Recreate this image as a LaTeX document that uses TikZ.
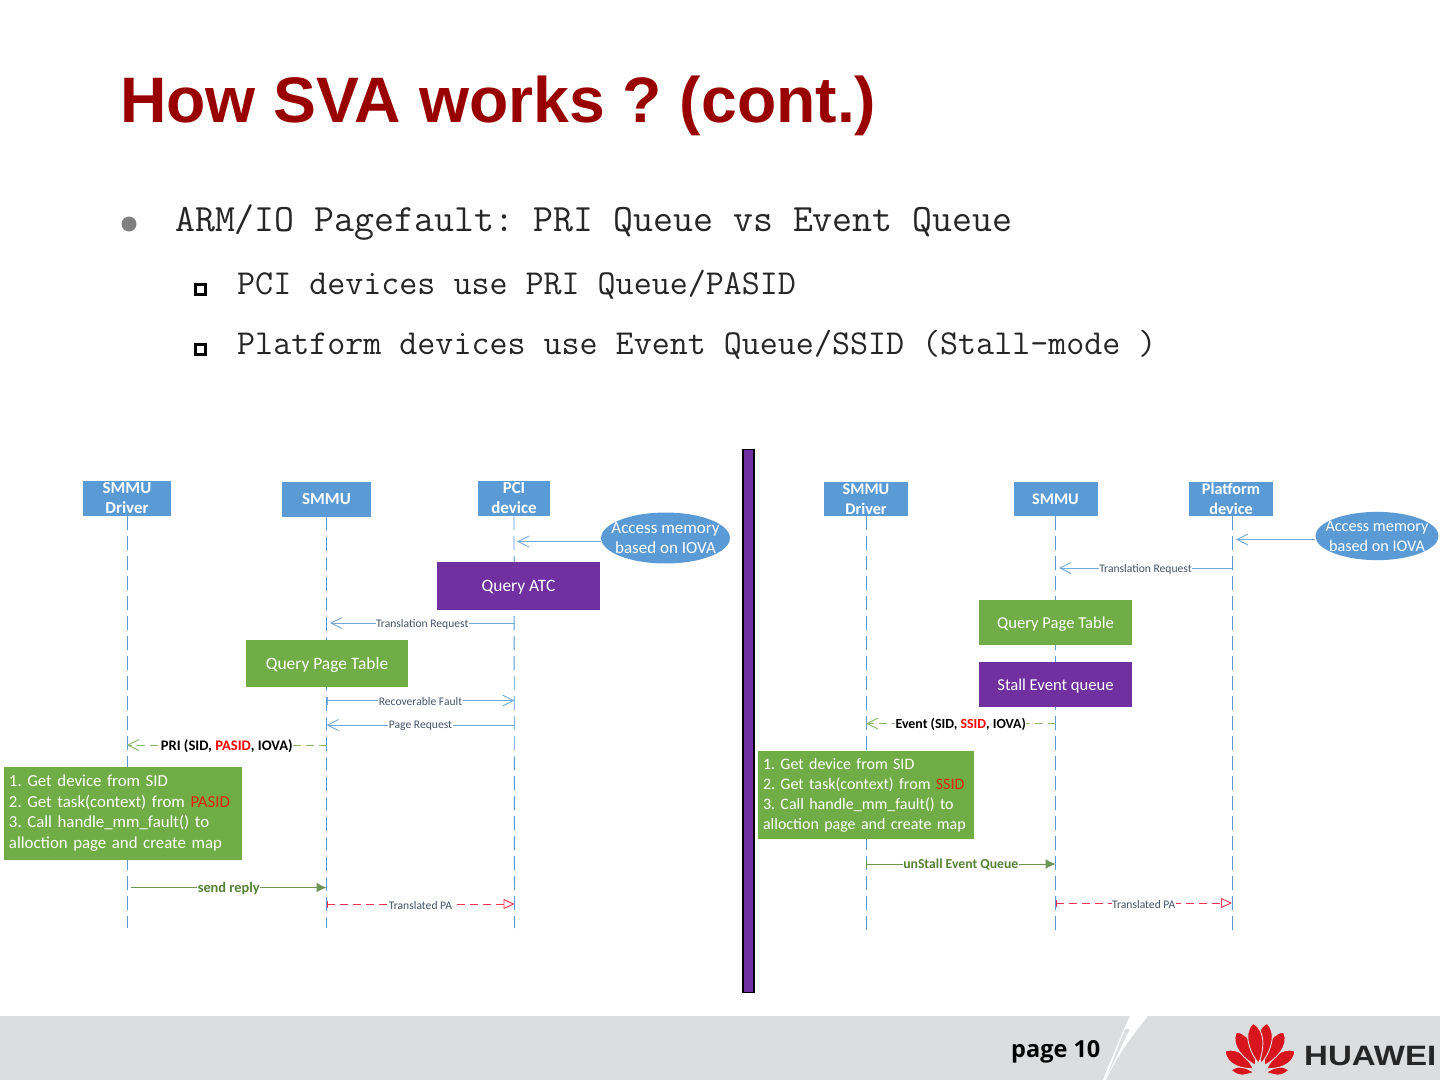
\documentclass[tikz,border=0pt]{standalone}
\usepackage{fontspec}
\setmainfont{Carlito}
\newfontfamily\titlefont{Liberation Sans}
\newfontfamily\bodyfont{Latin Modern Mono}
\newfontfamily\pagefont{Open Sans}
\usetikzlibrary{arrows.meta,shapes.geometric}
\definecolor{hdrblue}{HTML}{5B9BD5}
\definecolor{boxpurple}{HTML}{7030A0}
\definecolor{boxgreen}{HTML}{70AD47}
\definecolor{labelblue}{HTML}{44546A}
\definecolor{darkgreen}{HTML}{548235}
\definecolor{titlered}{HTML}{990000}
\definecolor{footgray}{HTML}{DCDDDE}
\definecolor{logored}{HTML}{D8141C}
\definecolor{redtext}{HTML}{E8200C}
\definecolor{softred}{HTML}{F5334A}
\tikzset{
 x=1pt,y=-1pt,
 hdr/.style={fill=hdrblue,text=white,font=\fontsize{#1}{20}\bfseries\selectfont,align=center,inner sep=0pt,minimum height=35pt,anchor=center},
 lifeline/.style={draw=hdrblue,line width=.9pt,dash pattern=on 14pt off 6pt},
 action/.style={text=white,font=\fontsize{#1}{20}\selectfont,inner sep=0pt,anchor=center,text height=13pt,text depth=2pt},
 notebox/.style={fill=boxgreen,text=white,align=left,inner sep=0pt,text width=#1},
 cloud/.style={ellipse,fill=hdrblue,text=white,align=center},
 msg/.style={fill=white,inner sep=.5pt,text=labelblue,yshift=-1pt,font=\fontsize{11.6}{12}\selectfont},
 msgb/.style={fill=white,inner sep=.5pt,text=black,yshift=-1pt,font=\fontsize{#1}{15}\bfseries\selectfont},
 msgg/.style={fill=white,inner sep=.5pt,text=darkgreen,yshift=-1pt,font=\fontsize{#1}{15}\bfseries\selectfont},
 call/.style={draw=hdrblue!85,line width=1pt,-{Straight Barb[length=11pt,width=11pt,line width=.9pt]}},
 callbar/.style={draw=hdrblue!85,line width=1pt,{Bar[width=8pt,line width=.9pt]}-{Straight Barb[length=11pt,width=11pt,line width=.9pt]}},
 pri/.style={draw=boxgreen!85,line width=1pt,dash pattern=on 8pt off 5pt,-{Straight Barb[length=11pt,width=11pt,line width=.9pt]}},
 reply/.style={draw=darkgreen!85,line width=1pt,-{Latex[length=10pt,width=10pt]}},
 replybar/.style={draw=darkgreen!85,line width=1pt,{Bar[width=8pt,line width=.9pt]}-{Latex[length=10pt,width=10pt]}},
 result/.style={draw=softred,line width=1pt,dash pattern=on 8pt off 5pt,{Bar[width=7pt,line width=.9pt]}-{Triangle[open,length=11pt,width=10pt,line width=.9pt]}},
 bullettext/.style={anchor=base west,inner sep=0pt,font=\bodyfont\fontsize{38.7}{38}\selectfont,text=black!85},
 subtext/.style={anchor=base west,inner sep=0pt,font=\bodyfont\fontsize{35}{35}\selectfont,text=black!85},
 sqbullet/.style={draw=black,line width=2.6pt,minimum size=9.5pt,inner sep=0pt},
 petal/.style={fill=logored,draw=footgray,line width=.9pt},
}
\begin{document}
\frenchspacing
\begin{tikzpicture}
\useasboundingbox (0,0) rectangle (1440,1080);
\fill[white] (0,0) rectangle (1440,1080);

% title and bullets
\node[anchor=base west,inner sep=0pt,text=titlered,font=\titlefont\bfseries\fontsize{64.3}{66}\selectfont] (title) at (120,122) {How SVA works ? (cont.)};
\node[circle,fill=black!50,minimum size=15pt,inner sep=0pt] (b1) at (129,224) {};
\node[bullettext] (t1) at (175,231) {ARM/IO Pagefault: PRI Queue vs Event Queue};
\node[sqbullet] (b2) at (200.5,289.5) {};
\node[subtext] (t2) at (237,294) {PCI devices use PRI Queue/PASID};
\node[sqbullet] (b3) at (200.5,349.5) {};
\node[subtext] (t3) at (237,354) {Platform devices use Event Queue/SSID (Stall-mode )};

% left diagram: headers and lifelines
\node[hdr=16.9,minimum width=88pt] (lD) at (127,498.5) {SMMU\\Driver};
\node[hdr=16.9,minimum width=89pt] (lS) at (326.5,499) {SMMU};
\node[hdr=16.9,minimum width=72pt] (lP) at (514,498.5) {PCI\\device};
\coordinate (lDe) at (127,928);
\coordinate (lSe) at (326.5,928);
\coordinate (lPe) at (514.5,928);
\draw[lifeline] (lD.south) -- (lDe);
\draw[lifeline] (lS.south) -- (lSe);
\draw[lifeline] (lP.south) -- (lPe);

\node[cloud,inner xsep=-8.5pt,inner ysep=2.5pt,font=\fontsize{17}{20}\selectfont] (lA) at (665.5,538) {Access memory\\based on IOVA};
\coordinate (la1) at (517,541.5);
\draw[call] (lA.west |- la1) -- (la1);
\node[action=17.4,fill=boxpurple,minimum width=163pt,minimum height=48pt] (lQ) at (518.5,586) {Query ATC};
\coordinate (la2s) at (514.5,623); \coordinate (la2e) at (330,623);
\draw[call] (la2s) -- node[msg]{Translation Request} (la2e);
\node[action=17.4,fill=boxgreen,minimum width=162pt,minimum height=47pt] (lT) at (327,663.5) {Query Page Table};
\coordinate (la3s) at (326.5,700.5); \coordinate (la3e) at (514.5,700.5);
\draw[callbar] (la3s) -- node[msg]{Recoverable Fault} (la3e);
\coordinate (la4s) at (514.5,725); \coordinate (la4e) at (326.5,725);
\draw[call] (la4s) -- node[msg]{Page Request} (la4e);
\coordinate (la5s) at (326.5,745); \coordinate (la5e) at (127,745);
\draw[pri] (la5s) -- node[msgb=14.6]{PRI (SID, \textcolor{red}{PASID}, IOVA)} (la5e);
\node[notebox=228pt,font=\fontsize{16.8}{20.4}\selectfont,minimum width=238pt,minimum height=93pt,anchor=center] (lN) at (123,813) {1. Get device from SID\\2. Get task(context) from \textcolor{redtext}{PASID}\\3. Call handle\_mm\_fault() to\\alloction page and create map};
\coordinate (la6s) at (131,887.5); \coordinate (la6e) at (326.5,887.5);
\draw[reply] (la6s) -- node[msgg=14.4]{send reply} (la6e);
\coordinate (la7s) at (326.5,904); \coordinate (la7e) at (514.5,904);
\draw[result] (la7s) -- node[msg]{Translated PA} (la7e);

% divider
\node[draw=black,line width=1.2pt,fill=boxpurple,minimum width=11pt,minimum height=543pt,inner sep=0pt] (div) at (748.5,721) {};

% right diagram
\node[hdr=16.2,minimum width=84pt,minimum height=34pt] (rD) at (866,499) {SMMU\\Driver};
\node[hdr=16.2,minimum width=84pt,minimum height=34pt] (rS) at (1055.5,499) {SMMU};
\node[hdr=16.2,minimum width=84pt,minimum height=34pt] (rP) at (1231,499) {Platform\\device};
\coordinate (rDe) at (866,935);
\coordinate (rSe) at (1055.5,935);
\coordinate (rPe) at (1232,935);
\draw[lifeline] (rD.south) -- (rDe);
\draw[lifeline] (rS.south) -- (rSe);
\draw[lifeline] (rP.south -| rPe) -- (rPe);

\node[cloud,inner xsep=-8pt,inner ysep=1.8pt,font=\fontsize{16.2}{20}\selectfont] (rA) at (1377,536) {Access memory\\based on IOVA};
\coordinate (ra1) at (1236,539.5);
\draw[call] (rA.west |- ra1) -- (ra1);
\coordinate (ra2s) at (1232,568); \coordinate (ra2e) at (1059,568);
\draw[call] (ra2s) -- node[msg]{Translation Request} (ra2e);
\node[action=16.6,fill=boxgreen,minimum width=153pt,minimum height=45pt] (rT) at (1055.5,622.5) {Query Page Table};
\node[action=16.6,fill=boxpurple,minimum width=153pt,minimum height=45pt] (rQ) at (1055.5,684.5) {Stall Event queue};
\coordinate (ra3s) at (1055.5,723.5); \coordinate (ra3e) at (866,723.5);
\draw[pri] (ra3s) -- node[msgb=13.9]{Event (SID, \textcolor{red}{SSID}, IOVA)} (ra3e);
\node[notebox=206pt,font=\fontsize{16}{20}\selectfont,minimum width=216pt,minimum height=88pt,anchor=center] (rN) at (866,795) {1. Get device from SID\\2. Get task(context) from \textcolor{redtext}{SSID}\\3. Call handle\_mm\_fault() to\\alloction page and create map};
\coordinate (ra4s) at (866,864); \coordinate (ra4e) at (1055.5,864);
\draw[replybar] (ra4s) -- node[msgg=13.7]{unStall Event Queue} (ra4e);
\coordinate (ra5s) at (1055.5,903); \coordinate (ra5e) at (1232,903);
\draw[result] (ra5s) -- node[msg]{Translated PA} (ra5e);

% footer
\fill[footgray] (0,1016) rectangle (1440,1080);
\fill[white] (1130,1016) .. controls (1121,1035) and (1113,1055) .. (1103,1080) -- (1106,1080) .. controls (1116,1058) and (1130,1038) .. (1148,1016) -- cycle;
\fill[footgray] (1125,1029) .. controls (1119,1045) and (1112,1062) .. (1107,1076) .. controls (1115,1060) and (1122,1044) .. (1130,1029) -- cycle;
\node[anchor=base west,inner sep=0pt,text=black] (page) at (1011,1057.5) {\pagefont\bfseries\fontsize{23.5}{24}\selectfont page 10};

% logo petals
\foreach \a/\l/\r/\w in {-84/29/6/6,84/29/6/6,-58/41/8/10,58/41/8/10,-30/47/9/11,30/47/9/11,-8/50/10/11,8/50/10/11}{
  \begin{scope}[shift={(1260,1073)},rotate=\a]
    \draw[petal] (0,-\r) .. controls ({-.5*\w},-\r-8) and ({-1.2*\w},-\l+9) .. (0,-\l) .. controls ({1.2*\w},-\l+9) and ({.5*\w},-\r-8) .. (0,-\r) -- cycle;
  \end{scope}
}
\node[anchor=base west,inner sep=0pt,text=black!85] (logo) at (1304,1065.5) {\scalebox{1.18}[1]{\titlefont\bfseries\fontsize{28}{28}\selectfont HUAWEI}};
\end{tikzpicture}
\end{document}
